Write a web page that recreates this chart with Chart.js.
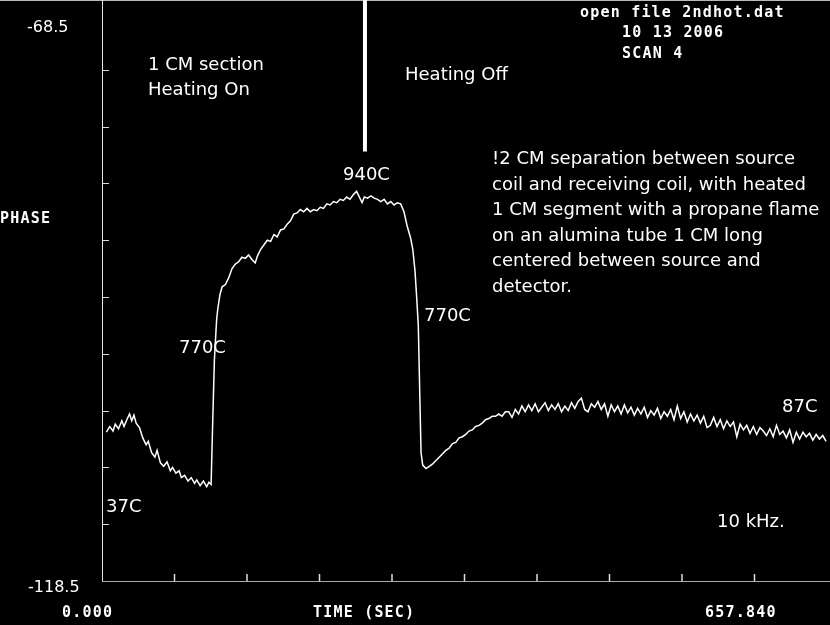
<!DOCTYPE html>
<html lang="en">
    <head>
        <meta charset="utf-8" />
        <title>2ndhot.dat scan 4</title>
        <style>
            body { margin: 0; background: #000; }
            canvas { display: block; }
        </style>
    </head>
    <body>
        <canvas id="phaseScan" width="830" height="625"></canvas>
        <script src="https://cdn.jsdelivr.net/npm/chart.js@4.4.1/dist/chart.umd.min.js"></script>
        <script>
            var timeSec = [
                4, 7, 10, 12, 15, 18, 20, 23, 25, 27, 29, 31, 34, 37, 40, 42, 45, 48, 50, 53,
                56, 59, 62, 64, 67, 70, 72, 75, 78, 81, 84, 86, 89, 92, 95, 97, 99,
                100.5, 102, 104, 105, 107, 109, 112, 115, 118, 121, 124, 127, 130, 133, 136, 139, 141, 144,
                147, 150, 153, 156, 159, 162, 165, 168, 171, 174, 177, 180, 183, 186, 189, 192, 195, 198,
                201, 204, 207, 210, 213, 216, 219, 222, 225, 228, 231, 233, 236, 238, 241, 244, 247, 250,
                253, 256, 259, 262, 265, 268, 271,
                274, 277, 280, 282, 284, 285.5, 287, 288.5, 289.5, 291, 294, 297, 300, 303, 306, 309, 312,
                315, 318, 321, 324, 327, 330, 333, 336, 339, 342, 345, 348, 351, 354, 357, 360, 363, 366,
                369, 372, 375, 378, 381, 384, 387, 390, 393, 396, 399, 402, 405, 408, 411, 414, 417, 420,
                423, 426, 429, 432, 435, 438, 441, 444, 447, 450, 453, 456, 459, 462, 465, 468, 471, 474,
                477, 480, 483, 486, 489, 492, 495, 498, 501, 504, 507, 510, 513, 516, 519, 522, 525, 528,
                531, 534, 537, 540, 543, 546, 549, 552, 555, 558, 561, 564, 567, 570, 573, 576, 579, 582,
                585, 588, 591, 594, 597, 600, 603, 606, 609, 612, 615, 618, 621, 624, 627, 630, 633, 636,
                639, 642, 645, 648, 651, 654, 657
            ];
            var phase = [
                -105.4, -104.9, -105.3, -104.7, -105.1, -104.4, -104.9, -104.2, -103.8, -104.4, -103.9, -104.6, -105.0, -105.9, -106.5, -106.2, -107.2, -107.6, -107.0, -108.1,
                -108.4, -108.0, -108.8, -108.5, -109.0, -108.8, -109.4, -109.2, -109.7, -109.4, -109.9, -109.6, -110.1, -109.7, -110.2, -109.8, -110.0,
                -104.3, -99.0, -95.5, -94.6, -93.3, -92.6, -92.4, -91.8, -91.0, -90.6, -90.4, -90.0, -90.1, -89.8, -90.2, -90.5, -89.9, -89.3,
                -88.9, -88.5, -88.6, -88.0, -88.2, -87.6, -87.5, -87.1, -86.8, -86.2, -86.1, -85.8, -86.0, -85.7, -86.0, -85.8, -85.9, -85.6,
                -85.7, -85.3, -85.4, -85.1, -85.2, -84.9, -85.0, -84.7, -84.9, -84.5, -84.2, -84.6, -85.2, -84.7, -84.8, -84.6, -84.8, -84.9,
                -85.1, -84.9, -85.3, -85.1, -85.4, -85.2, -85.3,
                -86.0, -87.3, -88.3, -89.3, -91.2, -93.5, -96.0, -102.8, -107.2, -108.3, -108.6, -108.4, -108.2, -107.9, -107.6, -107.3, -107.0,
                -106.8, -106.4, -106.3, -105.9, -105.8, -105.6, -105.3, -105.2, -104.9, -104.8, -104.6, -104.3, -104.2, -104.0, -104.0, -103.8, -104.0, -103.6,
                -103.6, -104.1, -103.4, -103.8, -103.1, -103.6, -103.0, -103.5, -102.9, -103.6, -103.2, -102.8, -103.5, -103.0, -103.4, -102.9, -103.6, -103.1,
                -103.5, -102.8, -103.3, -102.7, -102.4, -103.4, -103.6, -102.9, -103.2, -102.7, -103.4, -102.9, -104.0, -103.0, -103.6, -103.1, -103.8, -103.0,
                -103.7, -103.2, -103.9, -103.3, -103.8, -103.2, -104.1, -103.5, -103.9, -103.3, -104.2, -103.6, -104.0, -103.4, -104.3, -103.1, -104.2, -103.6,
                -104.5, -103.8, -104.4, -103.9, -104.6, -104.0, -105.0, -104.8, -104.1, -104.9, -104.3, -105.1, -104.4, -104.9, -104.5, -105.8, -104.7, -105.2,
                -104.8, -105.5, -104.9, -105.6, -105.0, -105.3, -105.7, -105.1, -105.8, -104.8, -105.6, -105.3, -105.9, -105.2, -106.3, -105.4, -106.0, -105.4,
                -105.8, -105.5, -106.1, -105.6, -106.0, -105.7, -106.2
            ];
            var yTicks = [-113.5, -108.5, -103.5, -98.5, -93.5, -88.5, -83.5, -78.5, -73.5];
            var xTicks = [65.784, 131.568, 197.352, 263.136, 328.92, 394.704, 460.488, 526.272, 592.056];
            var markerTime = 238.6;
            var markerTop = -80.7;

            var monoTexts = [
                ["open file 2ndhot.dat", 580, 17],
                ["10 13 2006", 622, 37],
                ["SCAN 4", 622, 58],
                ["PHASE", 0, 223],
                ["0.000", 62, 617],
                ["TIME (SEC)", 313, 617],
                ["657.840", 705, 617]
            ];
            var sansTexts = [
                ["1 CM section", 148, 70],
                ["Heating On", 148, 95],
                ["Heating Off", 405, 80],
                ["940C", 343, 180],
                ["770C", 179, 353],
                ["770C", 424, 321],
                ["37C", 106, 512],
                ["87C", 782, 412],
                ["10 kHz.", 717, 527],
                ["!2 CM separation between source", 492, 164],
                ["coil and receiving coil, with heated", 492, 189.5],
                ["1 CM segment with a propane flame", 492, 215],
                ["on an alumina tube 1 CM long", 492, 240.5],
                ["centered between source and", 492, 266],
                ["detector.", 492, 291.5]
            ];

            var scopeFrame = {
                id: "scopeFrame",
                beforeDraw: function (chart) {
                    var ctx = chart.ctx;
                    ctx.save();
                    ctx.fillStyle = "#000";
                    ctx.fillRect(0, 0, chart.width, chart.height);
                    ctx.strokeStyle = "#bbb";
                    ctx.lineWidth = 1;
                    ctx.beginPath();
                    ctx.moveTo(0, 0.5);
                    ctx.lineTo(chart.width, 0.5);
                    ctx.stroke();
                    ctx.restore();
                },
                afterDraw: function (chart) {
                    var ctx = chart.ctx;
                    var area = chart.chartArea;
                    var xs = chart.scales.x;
                    var ys = chart.scales.y;
                    ctx.save();

                    // axes
                    ctx.lineWidth = 1;
                    ctx.strokeStyle = "#e8e8e8";
                    ctx.beginPath();
                    ctx.moveTo(area.left + 0.5, 0);
                    ctx.lineTo(area.left + 0.5, area.bottom + 1);
                    ctx.stroke();
                    ctx.strokeStyle = "#aaa";
                    ctx.beginPath();
                    ctx.moveTo(area.left, area.bottom + 0.5);
                    ctx.lineTo(chart.width, area.bottom + 0.5);
                    ctx.stroke();

                    ctx.strokeStyle = "#ddd";
                    yTicks.forEach(function (v) {
                        var y = Math.round(ys.getPixelForValue(v)) + 0.5;
                        ctx.beginPath();
                        ctx.moveTo(area.left, y);
                        ctx.lineTo(area.left + 7, y);
                        ctx.stroke();
                    });
                    ctx.lineWidth = 1.5;
                    xTicks.forEach(function (t) {
                        var x = xs.getPixelForValue(t);
                        ctx.beginPath();
                        ctx.moveTo(x, area.bottom - 7);
                        ctx.lineTo(x, area.bottom);
                        ctx.stroke();
                    });

                    // heating off marker
                    ctx.strokeStyle = "#fff";
                    ctx.lineWidth = 4;
                    ctx.beginPath();
                    ctx.moveTo(xs.getPixelForValue(markerTime), 0);
                    ctx.lineTo(xs.getPixelForValue(markerTime), ys.getPixelForValue(markerTop));
                    ctx.stroke();

                    ctx.fillStyle = "#fff";
                    ctx.textBaseline = "alphabetic";
                    ctx.font = "16px 'DejaVu Sans'";
                    ctx.fillText("-68.5", 27, 32);
                    ctx.fillText("-118.5", 28, 592);

                    ctx.font = "18px 'DejaVu Sans'";
                    sansTexts.forEach(function (t) {
                        ctx.fillText(t[0], t[1], t[2]);
                    });

                    ctx.font = "bold 15px 'DejaVu Sans Mono'";
                    ctx.letterSpacing = "1.2px";
                    monoTexts.forEach(function (t) {
                        ctx.fillText(t[0], t[1], t[2]);
                    });
                    ctx.restore();
                }
            };

            var points = timeSec.map(function (t, i) {
                return { x: t, y: phase[i] };
            });

            new Chart(document.getElementById("phaseScan").getContext("2d"), {
                type: "line",
                data: {
                    datasets: [{
                        label: "PHASE",
                        data: points,
                        borderColor: "#fff",
                        borderWidth: 1.5,
                        pointRadius: 0,
                        tension: 0,
                        clip: 4
                    }]
                },
                options: {
                    responsive: false,
                    animation: false,
                    layout: { padding: { left: 102, right: 3, top: 13, bottom: 44 } },
                    scales: {
                        x: { type: "linear", min: 0, max: 657.84, display: false },
                        y: { min: -118.5, max: -68.5, display: false }
                    },
                    plugins: {
                        legend: { display: false },
                        tooltip: { enabled: false }
                    }
                },
                plugins: [scopeFrame]
            });
        </script>
    </body>
</html>
